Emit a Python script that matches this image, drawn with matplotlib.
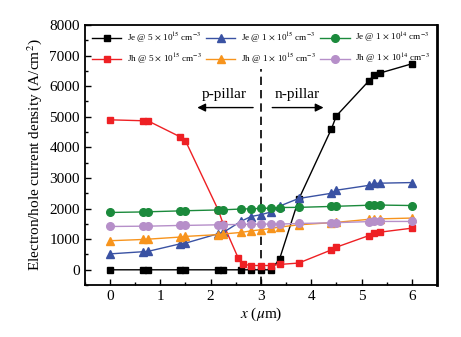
import numpy as np
import matplotlib
matplotlib.use('Agg')
import matplotlib.pyplot as plt
from matplotlib.ticker import MultipleLocator

plt.rcParams['font.family'] = ['Liberation Serif', 'DejaVu Serif']
plt.rcParams['mathtext.fontset'] = 'stix'

# posiciones (um)
x = [0, 0.65, 0.75, 1.4, 1.5, 2.15, 2.25, 2.6, 2.8, 3.0, 3.2, 3.37, 3.75,
     4.4, 4.5, 5.15, 5.25, 5.37, 6.0]
x_jh5 = [0, 0.65, 0.75, 1.4, 1.5, 2.15, 2.25, 2.55, 2.65, 2.8, 3.0, 3.2, 3.37,
         3.75, 4.4, 4.5, 5.15, 5.25, 5.37, 6.0]

# densidades de corriente (A/cm2)
je_5e15 = [0, 0, 0, 0, 0, 0, 0, 0, 0, 0, 0, 350, 2300,
           4600, 5030, 6180, 6370, 6430, 6730]
jh_5e15 = [4900, 4870, 4870, 4340, 4215, 1960, 1500, 380, 180, 140, 140, 140, 175,
           220, 650, 740, 1120, 1200, 1230, 1360]
je_1e15 = [520, 590, 600, 850, 870, 1180, 1220, 1580, 1740, 1800, 1890, 2080, 2330,
           2500, 2600, 2760, 2820, 2830, 2850]
jh_1e15 = [950, 990, 1000, 1070, 1090, 1150, 1170, 1220, 1270, 1310, 1350, 1395, 1470,
           1540, 1550, 1650, 1665, 1665, 1690]
je_1e14 = [1873, 1890, 1895, 1925, 1930, 1955, 1960, 1985, 1995, 2005, 2015, 2035, 2040,
           2070, 2075, 2110, 2115, 2115, 2100]
jh_1e14 = [1415, 1425, 1425, 1450, 1450, 1470, 1475, 1480, 1490, 1490, 1495, 1495, 1513,
           1535, 1540, 1575, 1580, 1580, 1580]

etiquetas = [r'Je @ 5 $\times$ 10$^{15}$ cm$^{-3}$',
             r'Jh @ 5 $\times$ 10$^{15}$ cm$^{-3}$',
             r'Je @ 1 $\times$ 10$^{15}$ cm$^{-3}$',
             r'Jh @ 1 $\times$ 10$^{15}$ cm$^{-3}$',
             r'Je @ 1 $\times$ 10$^{14}$ cm$^{-3}$',
             r'Jh @ 1 $\times$ 10$^{14}$ cm$^{-3}$']

fig = plt.figure(figsize=(4.61, 3.37), dpi=100)
ax = fig.add_axes([0.184, 0.154, 0.764, 0.772])

series = [
    (x, je_5e15, 'black', 's', 5),
    (x_jh5, jh_5e15, '#ee2024', 's', 5),
    (x, je_1e15, '#3a52a3', '^', 5.8),
    (x, jh_1e15, '#f7941d', '^', 5.8),
    (x, je_1e14, '#1b8a3c', 'o', 5.5),
    (x, jh_1e14, '#b68fc9', 'o', 5.5),
]
for (xs, ys, c, m, ms), lab in zip(series, etiquetas):
    ax.plot(xs, ys, color=c, marker=m, markersize=ms, lw=1.0, label=lab)

# limite p/n (termina debajo de la leyenda)
ax.vlines(3, -500, 6550, color='black', lw=1.2, linestyle=(0, (5, 3)), zorder=1)

ax.annotate('', xy=(1.68, 5300), xytext=(2.9, 5300),
            arrowprops=dict(arrowstyle='-|>', color='black', lw=1.0, mutation_scale=12))
ax.annotate('', xy=(4.3, 5300), xytext=(3.17, 5300),
            arrowprops=dict(arrowstyle='-|>', color='black', lw=1.0, mutation_scale=12))
ax.text(2.27, 5720, 'p-pillar', ha='center', va='center', fontsize=11)
ax.text(3.73, 5720, 'n-pillar', ha='center', va='center', fontsize=11)

ax.set_xlim(-0.5, 6.5)
ax.set_ylim(-500, 8000)
ax.xaxis.set_major_locator(MultipleLocator(1))
ax.xaxis.set_minor_locator(MultipleLocator(0.5))
ax.yaxis.set_major_locator(MultipleLocator(1000))
ax.yaxis.set_minor_locator(MultipleLocator(500))
ax.tick_params(which='both', direction='in', labelsize=11)
ax.tick_params(which='major', length=4, width=1)
ax.tick_params(which='minor', length=2, width=1)
for s in ax.spines.values():
    s.set_linewidth(1.3)
ax.spines['right'].set_linewidth(2)

ax.set_xlabel(r'$x$ ($\mu$m)', fontsize=11, labelpad=2)
ax.set_ylabel(r'Electron/hole current density (A/cm$^2$)', fontsize=11)

leg = ax.legend(loc='upper center', bbox_to_anchor=(0.5, 0.995), ncol=3, fontsize=6.6,
                frameon=False, handlelength=3.2, handletextpad=0.6,
                columnspacing=0.5, labelspacing=0.75, borderaxespad=0.2, borderpad=0.3)

fig.savefig('out.png', dpi=100)
